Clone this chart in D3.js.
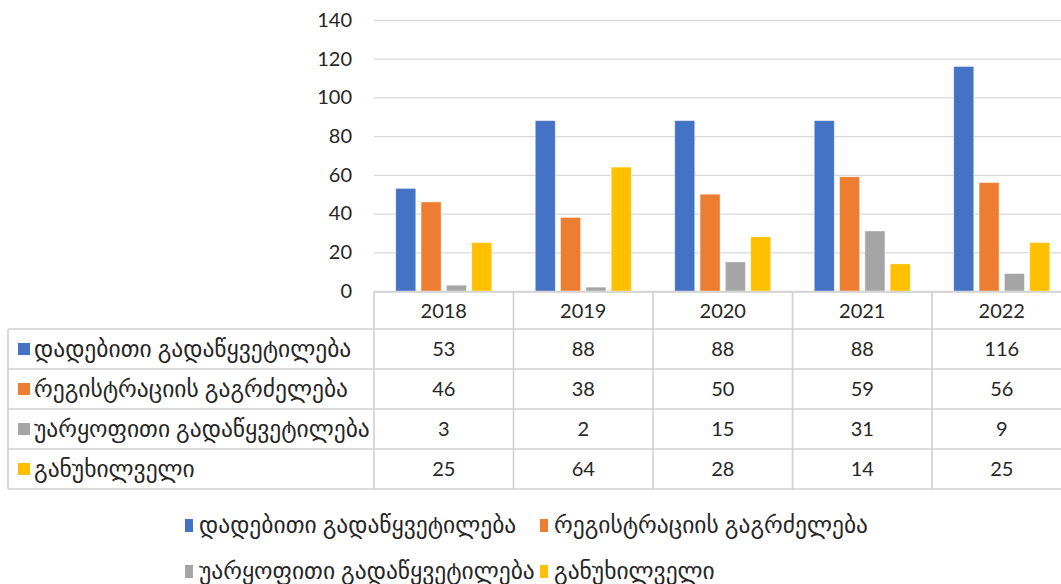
<!DOCTYPE html>
<html>
<head>
<meta charset="utf-8">
<script src="https://cdn.jsdelivr.net/npm/d3@7"></script>
<style>
  body { margin: 0; background: #fff; }
  svg text { font-family: Lato, "DejaVu Sans", sans-serif; fill: #262626; }
</style>
</head>
<body>
<svg id="chart" width="1061" height="584"></svg>
<script>
// categories and series
var years = ["2018", "2019", "2020", "2021", "2022"];
var seriesNames = [
  "დადებითი გადაწყვეტილება",
  "რეგისტრაციის გაგრძელება",
  "უარყოფითი გადაწყვეტილება",
  "განუხილველი",
];
var positive = [53, 88, 88, 88, 116];
var extension = [46, 38, 50, 59, 56];
var negative = [3, 2, 15, 31, 9];
var pending = [25, 64, 28, 14, 25];
var yTicks = [0, 20, 40, 60, 80, 100, 120, 140];

var colors = ["#4472C4", "#ED7D31", "#A5A5A5", "#FFC000"];
var series = [positive, extension, negative, pending].map(function (vals, i) {
  return { name: seriesNames[i], color: colors[i], values: vals };
});

var svg = d3.select("#chart");
var fontSize = 20;
var labelSize = 23.5; // georgian labels
var gridColor = "#D9D9D9";

// plot area
var plot = { left: 374, right: 1071.5, top: 20, bottom: 291 };

var x = d3.scaleBand().domain(years).range([plot.left, plot.right]);
var groupW = 96;
var xInner = d3
  .scaleBand()
  .domain(d3.range(series.length))
  .range([(x.bandwidth() - groupW) / 2, (x.bandwidth() + groupW) / 2])
  .paddingInner(0.21);
var y = d3.scaleLinear().domain([0, 140]).range([plot.bottom, plot.top]);

// gridlines + y labels
var yAxis = svg
  .append("g")
  .attr("transform", `translate(${plot.left},0)`)
  .call(
    d3
      .axisLeft(y)
      .tickValues(yTicks)
      .tickSize(-(plot.right - plot.left))
      .tickPadding(22)
  );
yAxis.select(".domain").remove();
yAxis.selectAll("line").attr("stroke", gridColor).attr("stroke-width", 1.3);
yAxis
  .selectAll("text")
  .style("font-size", fontSize + "px")
  .style("font-family", "Lato, 'DejaVu Sans', sans-serif")
  .attr("fill", "#262626");

// bars
var groups = svg
  .selectAll(".year")
  .data(years)
  .enter()
  .append("g")
  .attr("class", "year")
  .attr("transform", (d) => `translate(${x(d)},0)`);

groups
  .selectAll("rect")
  .data((d, i) => series.map((s, si) => ({ si: si, v: s.values[i], color: s.color })))
  .enter()
  .append("rect")
  .attr("x", (d) => xInner(d.si))
  .attr("width", xInner.bandwidth())
  .attr("y", (d) => y(d.v))
  .attr("height", (d) => y(0) - y(d.v))
  .attr("fill", (d) => d.color)
  .attr("stroke", "#fff")
  .attr("stroke-opacity", 0.5)
  .attr("stroke-width", 0.8);

// data table
var tableLeft = 8,
  headerTop = 292,
  headerH = 37,
  rowH = 40;
var tbl = svg.append("g").attr("class", "table");
var border = { stroke: "#D0D0D0", width: 1.6 };

function hline(x1, x2, yy) {
  tbl
    .append("line")
    .attr("x1", x1)
    .attr("x2", x2)
    .attr("y1", yy)
    .attr("y2", yy)
    .attr("stroke", border.stroke)
    .attr("stroke-width", border.width);
}
function vline(xx, y1, y2) {
  tbl
    .append("line")
    .attr("x1", xx)
    .attr("x2", xx)
    .attr("y1", y1)
    .attr("y2", y2)
    .attr("stroke", border.stroke)
    .attr("stroke-width", border.width);
}

var bodyTop = headerTop + headerH;
var bodyBottom = bodyTop + rowH * series.length;
hline(plot.left, plot.right, headerTop);
for (var r = 0; r <= series.length; r++) {
  hline(tableLeft, plot.right, bodyTop + r * rowH);
}
vline(tableLeft, bodyTop, bodyBottom);
years.forEach(function (yr) {
  vline(x(yr), headerTop, bodyBottom);
});
vline(plot.right, headerTop, bodyBottom);

// header years
tbl
  .selectAll(".yr")
  .data(years)
  .enter()
  .append("text")
  .attr("x", (d) => x(d) + x.bandwidth() / 2)
  .attr("y", headerTop + headerH / 2)
  .attr("dy", "0.35em")
  .attr("text-anchor", "middle")
  .style("font-size", fontSize + "px")
  .text((d) => d);

// rows
series.forEach(function (s, si) {
  var cy = bodyTop + si * rowH + rowH / 2;
  tbl
    .append("rect")
    .attr("x", 18)
    .attr("y", cy - 6)
    .attr("width", 12)
    .attr("height", 12)
    .attr("fill", s.color);
  tbl
    .append("text")
    .attr("x", 34)
    .attr("y", cy)
    .attr("dy", "0.35em")
    .style("font-size", labelSize + "px")
    .text(s.name);
  years.forEach(function (yr, i) {
    tbl
      .append("text")
      .attr("x", x(yr) + x.bandwidth() / 2)
      .attr("y", cy)
      .attr("dy", "0.35em")
      .attr("text-anchor", "middle")
      .style("font-size", fontSize + "px")
      .text(s.values[i]);
  });
});

// legend (2 rows x 2)
var legendPos = [
  [185, 525],
  [540, 525],
  [185, 571],
  [540, 571],
];
var legend = svg
  .append("g")
  .selectAll("g")
  .data(series)
  .enter()
  .append("g")
  .attr("transform", (d, i) => `translate(${legendPos[i][0]},${legendPos[i][1]})`);
legend
  .append("rect")
  .attr("x", 0)
  .attr("y", -6)
  .attr("width", 8)
  .attr("height", 13)
  .attr("fill", (d) => d.color);
legend
  .append("text")
  .attr("x", 14)
  .attr("y", 0)
  .attr("dy", "0.35em")
  .style("font-size", labelSize + "px")
  .text((d) => d.name);
</script>
</body>
</html>
